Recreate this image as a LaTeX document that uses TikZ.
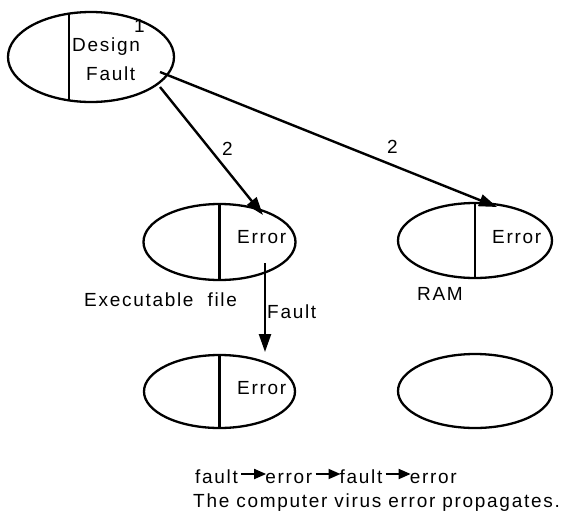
\documentclass[tikz,border=0pt]{standalone}
\usepackage{fontspec}
\setmainfont{Liberation Sans}[LetterSpace=9]
\usetikzlibrary{positioning}
\usetikzlibrary{calc}
\usetikzlibrary{shapes.geometric}
\usetikzlibrary{arrows.meta}
\tikzset{cell/.style={draw, ellipse, line width=2.3pt, inner sep=0pt}}
\tikzset{lbl/.style={inner sep=0pt, anchor=base west}}
\tikzset{flow/.style={line width=2.4pt, -{Triangle[length=18pt,width=12pt]}}}
\tikzset{small/.style={line width=1.8pt, -{Triangle[length=12pt,width=10pt]}}}

\begin{document}
\begin{tikzpicture}[x=1pt, y=-1pt, font=\fontsize{19}{22}\selectfont]
        \useasboundingbox (0,0) rectangle (576,517);

        % the five cells
        \node[cell, minimum width=166pt, minimum height=90pt] (design) at (91,57) {};
        \node[cell, minimum width=152pt, minimum height=76pt] (exefile) at (219.5,242) {};
        \node[cell, minimum width=154pt, minimum height=75pt] (ram) at (475,240.5) {};
        \node[cell, minimum width=151pt, minimum height=73pt] (exenext) at (219.5,391.5) {};
        \node[cell, minimum width=154pt, minimum height=74pt] (ramnext) at (475,391) {};

        % dividers
        \draw[line width=2.3pt] ($(design.center)+(-22,-43.4)$) -- ($(design.center)+(-22,43.4)$);
        \draw[line width=2.3pt] (exefile.north) -- (exefile.south);
        \draw[line width=2.3pt] (ram.north) -- (ram.south);
        \draw[line width=2.3pt] (exenext.north) -- (exenext.south);

        % cell texts
        \node[lbl] (dtop) at (72,51) {Design};
        \node[lbl] (dbot) at (86,80) {Fault};
        \node[lbl] (one) at (134,32) {1};
        \node[lbl] (err1) at (237,243) {Error};
        \node[lbl] (err2) at (492,243) {Error};
        \node[lbl] (err3) at (237,394) {Error};
        \node[lbl] (exelbl) at (84,306) {Executable\ \ file};
        \node[lbl] (ramlbl) at (417,300) {RAM};

        % propagation
        \coordinate (s1) at (160,87);
        \coordinate (s2) at (160,72);
        \coordinate (t1) at (263,215);
        \coordinate (t2) at (497,207);
        \coordinate (s3) at (265,263);
        \coordinate (t3) at (265,352);
        \draw[flow] (s1) -- (t1);
        \draw[flow] (s2) -- (t2);
        \draw[flow] (s3) -- (t3);
        \node[lbl] (two1) at (222,155) {2};
        \node[lbl] (two2) at (387,153) {2};
        \node[lbl] (faultlbl) at (267,318) {Fault};

        % chain and caption
        \node[lbl] (f1) at (195,483) {fault};
        \node[base right=27pt of f1, inner sep=0pt] (e1) {error};
        \node[base right=27pt of e1, inner sep=0pt] (f2) {fault};
        \node[base right=27pt of f2, inner sep=0pt] (e2) {error};
        \draw[small] ($(f1.base east)+(3,-9)$) -- ($(e1.base west)+(1,-9)$);
        \draw[small] ($(e1.base east)+(3,-9)$) -- ($(f2.base west)+(1,-9)$);
        \draw[small] ($(f2.base east)+(3,-9)$) -- ($(e2.base west)+(1,-9)$);
        \node[lbl] (caption) at (193,507) {The computer virus error propagates.};
\end{tikzpicture}
\end{document}
